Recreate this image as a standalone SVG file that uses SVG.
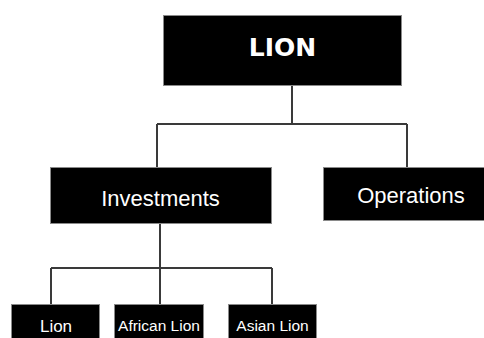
<svg xmlns="http://www.w3.org/2000/svg" width="484" height="338" viewBox="0 0 484 338">
  <style>
    .box { fill: #000; stroke: #8a8a8a; stroke-width: 1; }
    .lbl { fill: #fff; font-family: "Liberation Sans", Arial, sans-serif; text-anchor: middle; }
    .title { fill: #fff; font-family: "DejaVu Sans", Verdana, sans-serif; font-weight: bold; text-anchor: middle; }
    .conn { fill: none; stroke: #3a3a3a; stroke-width: 2; }
  </style>
  <rect width="484" height="338" fill="#fff"/>

  <!-- connectors -->
  <g id="connectors">
    <path class="conn" d="M292 85 V124 M157 124 H407 M157 124 V167 M407 124 V167"/>
    <path class="conn" d="M160 224 V305 M51 268 H272 M51 268 V305 M272 268 V305"/>
  </g>

  <!-- root -->
  <g id="node-lion-root">
    <rect class="box" x="163.5" y="15.5" width="238" height="70"/>
    <text class="title" x="282.5" y="56" font-size="25">LION</text>
  </g>

  <!-- second level -->
  <g id="node-investments">
    <rect class="box" x="50.5" y="167.5" width="221" height="56"/>
    <text class="lbl" x="160.5" y="205.5" font-size="22">Investments</text>
  </g>
  <g id="node-operations">
    <rect class="box" x="323.5" y="167.5" width="161" height="53"/>
    <text class="lbl" x="411" y="202.5" font-size="22">Operations</text>
  </g>

  <!-- third level -->
  <g id="node-lion">
    <rect class="box" x="11.5" y="304.5" width="88" height="40"/>
    <text class="lbl" x="56" y="332" font-size="17">Lion</text>
  </g>
  <g id="node-african-lion">
    <rect class="box" x="114.5" y="304.5" width="89" height="40"/>
    <text class="lbl" x="159" y="331" font-size="15.5">African Lion</text>
  </g>
  <g id="node-asian-lion">
    <rect class="box" x="228.5" y="304.5" width="88" height="40"/>
    <text class="lbl" x="272.5" y="331" font-size="15.5">Asian Lion</text>
  </g>
</svg>
